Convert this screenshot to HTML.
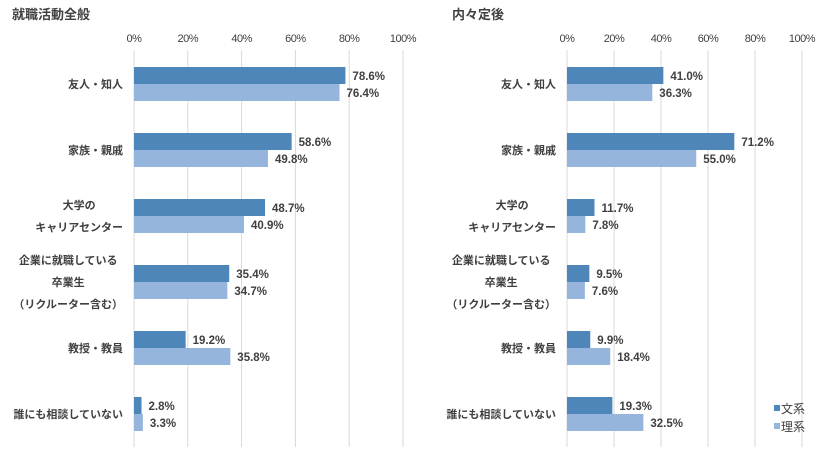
<!DOCTYPE html>
<html><head><meta charset="utf-8">
<style>
body{margin:0;background:#fff;}
svg{display:block;font-family:"Liberation Sans","Noto Sans CJK JP",sans-serif;}
</style></head>
<body>
<svg id="c" width="831" height="459"></svg>
<script>
const categories = ["友人・知人","家族・親戚","大学の|キャリアセンター","企業に就職している|卒業生|（リクルーター含む）","教授・教員","誰にも相談していない"];
const leftBun = [78.6,58.6,48.7,35.4,19.2,2.8];
const leftRi = [76.4,49.8,40.9,34.7,35.8,3.3];
const rightBun = [41.0,71.2,11.7,9.5,9.9,19.3];
const rightRi = [36.3,55.0,7.8,7.6,18.4,32.5];
const ticks = [0,20,40,60,80,100];
const seriesNames = ["文系","理系"];
const titles = ["就職活動全般","内々定後"];

const NS="http://www.w3.org/2000/svg";
const svg=document.getElementById('c');
function mk(tag,attrs,parent){const e=document.createElementNS(NS,tag);for(const k in attrs)e.setAttribute(k,attrs[k]);(parent||svg).appendChild(e);return e;}
const C1="#4f86b9",C2="#95b5dd",TXT="#404040";

function panel(x0,x1,title,bun,ri,labelRight,pname){
  const g=mk('g',{});
  
  
  const xs=v=>x0+(x1-x0)*v/100;
  const ys=i=>84+i*66;
  const t=mk('text',{x:(pname==='left-panel'?12:452),y:19,'font-size':13,'font-weight':'bold',fill:TXT},g);
  t.textContent=title;
  
  
  ticks.forEach(v=>{
    const l=mk('line',{x1:xs(v),x2:xs(v),y1:50,y2:447,stroke:'#d9d9d9','stroke-width':1},g);
    
    
    const tt=mk('text',{x:xs(v),y:42,'font-size':11,'text-anchor':'middle',fill:TXT,'letter-spacing':'-0.5'},g);
    tt.textContent=v+'%';
    
    
  });
  categories.forEach((c,i)=>{
    const lines=c.split('|');
    const y=ys(i);
    const els=lines.map((s,j)=>{
      const tx=mk('text',{x:labelRight,y:y+4+(j-(lines.length-1)/2)*22,'font-size':11,'font-weight':'bold','text-anchor':'middle',fill:TXT},g);
      tx.textContent=s;
      
      
      return tx;
    });
    const w=Math.max(...els.map(e=>e.getComputedTextLength()));
    els.forEach(e=>e.setAttribute('x',labelRight-w/2));
    [[bun[i],C1,y-17],[ri[i],C2,y]].forEach(([v,col,by],k)=>{
      const r=mk('rect',{x:xs(0),y:by,width:xs(v)-xs(0),height:17,fill:col},g);
      
      
      const vt=mk('text',{x:xs(v)+7,y:by+13,'font-size':11.5,'font-weight':'bold',fill:TXT},g);
      vt.textContent=v.toFixed(1)+'%';
      
      
    });
  });
}
panel(134,403,titles[0],leftBun,leftRi,123,'left-panel');
panel(567,802,titles[1],rightBun,rightRi,556,'right-panel');

seriesNames.forEach((n,i)=>{
  const y=409+i*18;
  const r=mk('rect',{x:774,y:y-4,width:6,height:6,fill:i?C2:C1});
  
  
  const t=mk('text',{x:781,y:y+4,'font-size':12,fill:TXT});
  t.textContent=n;
  
  
});
</script>
</body></html>
